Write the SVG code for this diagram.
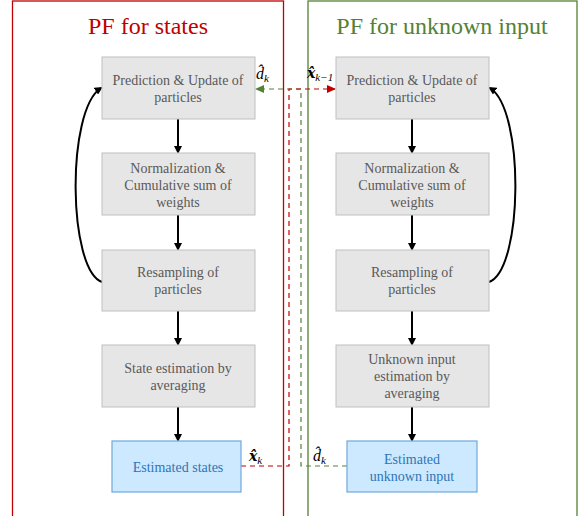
<svg xmlns="http://www.w3.org/2000/svg" width="583" height="516" viewBox="0 0 583 516">
<defs>
<style>
.box{fill:#e7e6e6;stroke:#bfbfbf;stroke-width:1}
.est{fill:#cce9ff;stroke:#6fa8dc;stroke-width:1.2}
.t{font-family:"Liberation Serif",serif;font-size:14px;fill:#595959;text-anchor:middle}
.tb{font-family:"Liberation Serif",serif;font-size:14px;fill:#2e75b6;text-anchor:middle}
.title{font-family:"Liberation Serif",serif;font-size:24px;text-anchor:middle}
.m{font-family:"Liberation Serif",serif;font-size:16px;fill:#000}
.x{font-family:"DejaVu Serif",serif;font-size:14px;font-weight:bold;font-style:italic}
.arr{stroke:#000;stroke-width:2;fill:none;marker-end:url(#ab)}
.rd{stroke:#c00000;stroke-width:1.2;fill:none;stroke-dasharray:5,4}
.gd{stroke:#548235;stroke-width:1.2;fill:none;stroke-dasharray:5,4}
</style>
<marker id="ab" markerWidth="8" markerHeight="8" refX="6" refY="4" orient="auto" markerUnits="userSpaceOnUse"><path d="M0,0 L8,4 L0,8 z" fill="#000"/></marker>
<marker id="ar" markerWidth="9" markerHeight="8" refX="8" refY="4" orient="auto" markerUnits="userSpaceOnUse"><path d="M0,0 L9,4 L0,8 z" fill="#c00000"/></marker>
<marker id="ag" markerWidth="9" markerHeight="8" refX="8" refY="4" orient="auto" markerUnits="userSpaceOnUse"><path d="M0,0 L9,4 L0,8 z" fill="#548235"/></marker>
</defs>
<rect width="583" height="516" fill="#fff"/>
<g id="frame-states"><rect x="12.5" y="1" width="271" height="520" fill="none" stroke="#c00000" stroke-width="1.3"/><text class="title" x="148" y="34" fill="#c00000">PF for states</text></g>
<g id="frame-input"><rect x="308" y="1" width="269" height="520" fill="none" stroke="#548235" stroke-width="1.3"/><text class="title" x="442" y="34" fill="#548235">PF for unknown input</text></g>

<g id="connectors">
<line class="arr" x1="178" y1="119" x2="178" y2="152"/>
<line class="arr" x1="178" y1="215" x2="178" y2="249"/>
<line class="arr" x1="178" y1="311" x2="178" y2="344"/>
<line class="arr" x1="178" y1="407" x2="178" y2="440"/>
<line class="arr" x1="412" y1="119" x2="412" y2="152"/>
<line class="arr" x1="412" y1="215" x2="412" y2="249"/>
<line class="arr" x1="412" y1="311" x2="412" y2="344"/>
<line class="arr" x1="412" y1="407" x2="412" y2="440"/>
<path class="arr" d="M102,282 C68,270 66,110 101,88"/>
<path class="arr" d="M489,282 C523,270 525,110 490,88"/>
<path class="gd" d="M347,466 H301 V89 H256" marker-end="url(#ag)"/>
<path class="rd" d="M241,466 H289 V89 H335" marker-end="url(#ar)"/>
<text class="m" x="256" y="79" font-style="italic">d̂<tspan font-size="11" dy="3">k</tspan></text>
<text class="m" x="307" y="78"><tspan class="x">x̂</tspan><tspan font-size="11" dy="3" font-style="italic">k−1</tspan></text>
<text class="m" x="249" y="461"><tspan class="x">x̂</tspan><tspan font-size="11" dy="3" font-style="italic">k</tspan></text>
<text class="m" x="313" y="461" font-style="italic">d̂<tspan font-size="11" dy="3">k</tspan></text>
</g>

<g id="l1"><rect class="box" x="102" y="57" width="153" height="62"/><text class="t" x="178" y="85">Prediction &amp; Update of</text><text class="t" x="178" y="102">particles</text></g>
<g id="l2"><rect class="box" x="102" y="153" width="153" height="62"/><text class="t" x="178" y="173">Normalization &amp;</text><text class="t" x="178" y="190">Cumulative sum of</text><text class="t" x="178" y="207">weights</text></g>
<g id="l3"><rect class="box" x="102" y="250" width="153" height="61"/><text class="t" x="178" y="277">Resampling of</text><text class="t" x="178" y="294">particles</text></g>
<g id="l4"><rect class="box" x="102" y="345" width="153" height="62"/><text class="t" x="178" y="373">State estimation by</text><text class="t" x="178" y="390">averaging</text></g>
<g id="l5"><rect class="est" x="112" y="441" width="129" height="51"/><text class="tb" x="178" y="472">Estimated states</text></g>

<g id="r1"><rect class="box" x="336" y="57" width="153" height="62"/><text class="t" x="412" y="85">Prediction &amp; Update of</text><text class="t" x="412" y="102">particles</text></g>
<g id="r2"><rect class="box" x="336" y="153" width="153" height="62"/><text class="t" x="412" y="173">Normalization &amp;</text><text class="t" x="412" y="190">Cumulative sum of</text><text class="t" x="412" y="207">weights</text></g>
<g id="r3"><rect class="box" x="336" y="250" width="153" height="61"/><text class="t" x="412" y="277">Resampling of</text><text class="t" x="412" y="294">particles</text></g>
<g id="r4"><rect class="box" x="336" y="345" width="153" height="62"/><text class="t" x="412" y="364">Unknown input</text><text class="t" x="412" y="381">estimation by</text><text class="t" x="412" y="398">averaging</text></g>
<g id="r5"><rect class="est" x="347" y="441" width="130" height="51"/><text class="tb" x="412" y="464">Estimated</text><text class="tb" x="412" y="481">unknown input</text></g>
</svg>
